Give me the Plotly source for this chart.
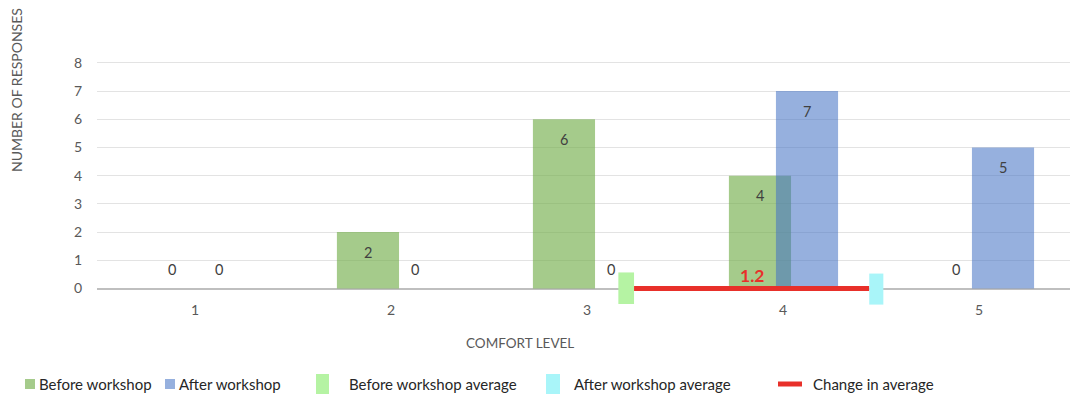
import plotly.graph_objects as go

# Survey responses per comfort level
levels = [1, 2, 3, 4, 5]
before_counts = [0, 2, 6, 4, 0]
after_counts = [0, 0, 0, 7, 5]

# Average comfort level before/after and the change between them
before_avg = 3.2
avg_change = 1.2
change_label = "1.2"

y_ticks = [0, 1, 2, 3, 4, 5, 6, 7, 8]

FONT = "Lato"
GREEN = "rgba(112,173,71,0.63)"
BLUE = "rgba(68,114,196,0.56)"
AVG_GREEN = "#b5f3a3"
AVG_CYAN = "#a9f5f9"
RED = "#e8302a"

# plot-area geometry (px)
W, H = 1070, 394
L, T = 97, 46
PW, PH = W - L, 260
B = H - T - PH

BAR_W = 0.317
BEFORE_OFF = -0.276
AFTER_OFF = -0.036
AVG_HALF = 0.04


def px_x(px):
    return (px - L) / PW


def px_y(py):
    return (T + PH - py) / PH


fig = go.Figure()

fig.add_trace(go.Bar(
    x=levels, y=before_counts, name="Before workshop",
    width=BAR_W, offset=BEFORE_OFF, marker=dict(color=GREEN, line_width=0),
    showlegend=False,
))
fig.add_trace(go.Bar(
    x=levels, y=after_counts, name="After workshop",
    width=BAR_W, offset=AFTER_OFF, marker=dict(color=BLUE, line_width=0),
    showlegend=False,
))

# value labels: inside the top of each bar, or just above the axis for zeros
for counts, off in ((before_counts, BEFORE_OFF), (after_counts, AFTER_OFF)):
    for lvl, v in zip(levels, counts):
        fig.add_annotation(
            x=lvl + off + BAR_W / 2, y=v, text=str(v), showarrow=False,
            yshift=-20 if v > 0 else 19,
            font=dict(family=FONT, size=14.5, color="#404040"),
        )

# change in average: line from the before marker to the after marker
line_start = before_avg + AVG_HALF
line_end = line_start + avg_change
fig.add_trace(go.Scatter(
    x=[line_start, line_end], y=[0, 0], mode="lines",
    line=dict(color=RED, width=5), showlegend=False, cliponaxis=False,
))
fig.add_annotation(
    x=(line_start + line_end) / 2, y=0, text="<b>" + change_label + "</b>",
    showarrow=False, yshift=13,
    font=dict(family=FONT, size=17.5, color=RED),
)

# average markers
fig.add_shape(type="rect", xref="x", yref="y",
              x0=before_avg - AVG_HALF, x1=before_avg + AVG_HALF, y0=-0.55, y1=0.57,
              fillcolor=AVG_GREEN, line_width=0, layer="above")
fig.add_shape(type="rect", xref="x", yref="y",
              x0=line_end, x1=line_end + 2 * AVG_HALF * 0.9, y0=-0.57, y1=0.53,
              fillcolor=AVG_CYAN, line_width=0, layer="above")

# axis titles
fig.add_annotation(
    xref="paper", yref="paper", x=px_x(17), y=px_y(90),
    xanchor="center", yanchor="middle",
    text="NUMBER OF RESPONSES", textangle=-90, showarrow=False,
    font=dict(family=FONT, size=14, color="#595959"),
)
fig.add_annotation(
    xref="paper", yref="paper", x=px_x(520), y=px_y(343),
    xanchor="center", yanchor="middle",
    text="COMFORT LEVEL", showarrow=False,
    font=dict(family=FONT, size=13.5, color="#595959"),
)

# legend row
LEG_Y = 384
legend_items = [
    ("rect", GREEN, 25, 35, 379, 389, 37, "Before workshop"),
    ("rect", BLUE, 165, 175, 379, 389, 177, "After workshop"),
    ("rect", AVG_GREEN, 316, 329, 374, 394, 347, "Before workshop average"),
    ("rect", AVG_CYAN, 546, 560, 374, 394, 572, "After workshop average"),
    ("line", RED, 778, 802, LEG_Y, LEG_Y, 811, "Change in average"),
]
for kind, color, x0, x1, y0, y1, tx, label in legend_items:
    if kind == "rect":
        fig.add_shape(type="rect", xref="paper", yref="paper",
                      x0=px_x(x0), x1=px_x(x1), y0=px_y(y1), y1=px_y(y0),
                      fillcolor=color, line_width=0)
    else:
        fig.add_shape(type="line", xref="paper", yref="paper",
                      x0=px_x(x0), x1=px_x(x1), y0=px_y(y0), y1=px_y(y1),
                      line=dict(color=color, width=5))
    fig.add_annotation(
        xref="paper", yref="paper", x=px_x(tx), y=px_y(LEG_Y),
        xanchor="left", yanchor="middle", text=label, showarrow=False,
        font=dict(family=FONT, size=15, color="#262626"),
    )

fig.update_layout(
    width=W, height=H,
    margin=dict(l=L, r=0, t=T, b=B, pad=0),
    barmode="overlay",
    plot_bgcolor="white", paper_bgcolor="white",
    showlegend=False,
    xaxis=dict(
        range=[0.5, 0.5 + PW / 196], tickmode="array", tickvals=levels,
        ticktext=[str(v) for v in levels], showgrid=False, zeroline=False,
        showline=False, ticks="", ticklabelstandoff=-6,
        tickfont=dict(family=FONT, size=14, color="#595959"),
    ),
    yaxis=dict(
        range=[-0.62, 8.6], tickmode="array", tickvals=y_ticks,
        showgrid=True, gridcolor="#e3e3e3", gridwidth=1,
        zeroline=True, zerolinecolor="#bfbfbf", zerolinewidth=2,
        showline=False, ticks="", ticklabelstandoff=14,
        tickfont=dict(family=FONT, size=14, color="#595959"),
    ),
)

fig.write_html("out.html")
